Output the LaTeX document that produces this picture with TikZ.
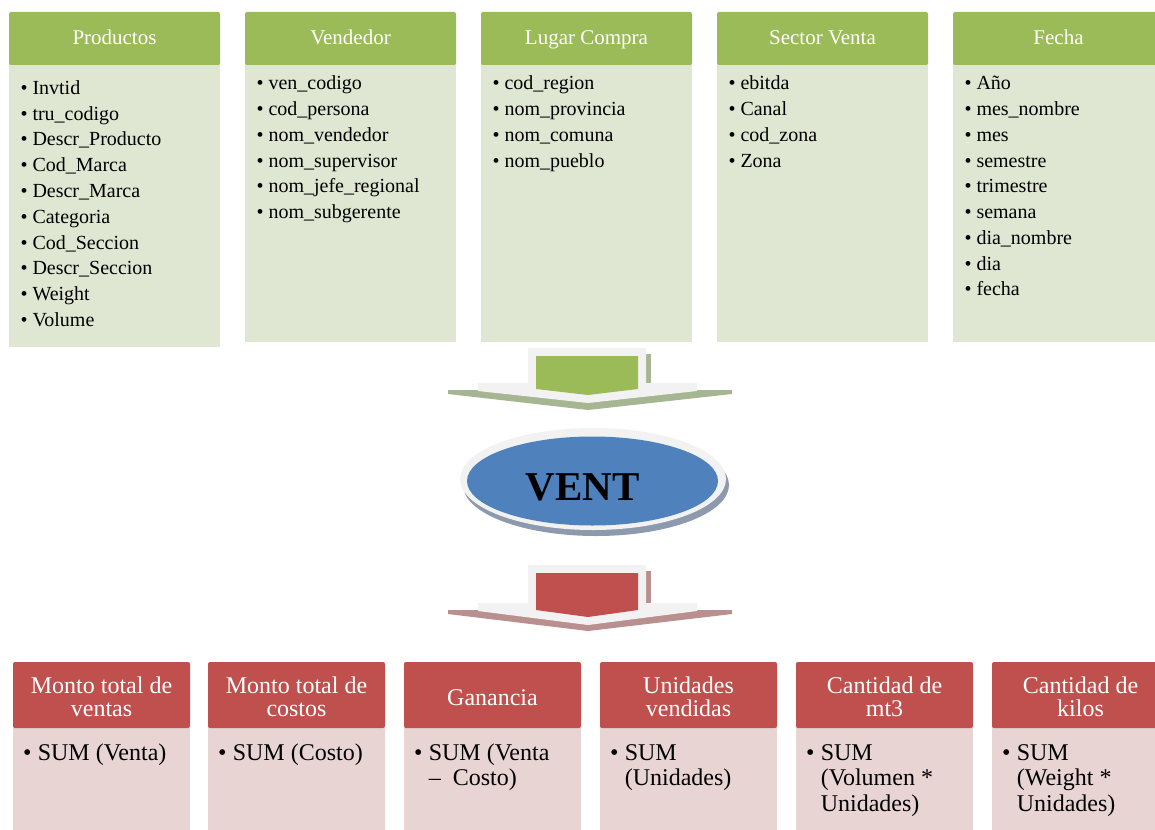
\documentclass[tikz,border=0pt]{standalone}
\usepackage{fontspec}
\setmainfont{Liberation Serif}

\definecolor{grnH}{HTML}{9BBB59}
\definecolor{grnB}{HTML}{DFE7D2}
\definecolor{redH}{HTML}{C0504D}
\definecolor{redB}{HTML}{E9D4D4}
\definecolor{pale}{HTML}{F2F2F2}
\definecolor{grnS}{HTML}{A6B592}
\definecolor{redS}{HTML}{B98F8F}
\definecolor{blueF}{HTML}{4F81BD}
\definecolor{blueS}{HTML}{8D9AAE}

\tikzset{
  hdr/.style={font=\fontsize{21}{24}\selectfont, text=white, inner sep=0pt, anchor=base},
  itm/.style={font=\fontsize{20}{24}\selectfont, text=black, inner sep=0pt, anchor=base west},
  fhdr/.style={font=\fontsize{24}{26}\selectfont, text=white, inner sep=0pt, anchor=base},
  fitm/.style={font=\fontsize{24}{26}\selectfont, text=black, inner sep=0pt, anchor=base west},
  fbul/.style={font=\fontsize{24}{26}\selectfont, text=black, inner sep=0pt, anchor=base},
}

% dimension box: name, left edge, title, body bottom, first baseline, items
\newcommand\dimbox[6]{%
  \fill[grnB] (#2,60) rectangle (#2+211,#4);
  \fill[grnH, rounded corners=2pt] (#2,12) rectangle (#2+211,65);
  \node[hdr] (#1) at (#2+105.5,44.5) {#3};
  \foreach \t [count=\k from 0] in {#6}
    \node[itm] (#1-\k) at (#2+11.3,#5+25.75*\k) {\textbullet\ \t};
}

% measure box frame: left edge
\newcommand\factframe[1]{%
  \fill[redB] (#1,724) rectangle (#1+177,840);
  \fill[redH, rounded corners=2pt] (#1,662) rectangle (#1+177,728);
}

\begin{document}
\begin{tikzpicture}[x=1pt,y=-1pt]
\useasboundingbox (0,0) rectangle (1155,829);
\clip (0,0) rectangle (1155,829);

% dimensions
\dimbox{prod}{9}{Productos}{347}{94.5}{Invtid,tru\_codigo,Descr\_Producto,Cod\_Marca,Descr\_Marca,Categoria,Cod\_Seccion,Descr\_Seccion,Weight,Volume}
\dimbox{vend}{245}{Vendedor}{342}{89.8}{ven\_codigo,cod\_persona,nom\_vendedor,nom\_supervisor,nom\_jefe\_regional,nom\_subgerente}
\dimbox{lugar}{481}{Lugar Compra}{342}{89.8}{cod\_region,nom\_provincia,nom\_comuna,nom\_pueblo}
\dimbox{sector}{717}{Sector Venta}{342}{89.8}{ebitda,Canal,cod\_zona,Zona}
\dimbox{fecha}{953}{Fecha}{342}{89.8}{Año,mes\_nombre,mes,semestre,trimestre,semana,dia\_nombre,dia,fecha}

% green block arrow into the fact
\fill[grnS] (448,390) -- (732,390) -- (732,394) -- (588,410) -- (448,394) -- cycle;
\fill[grnS] (646,354) rectangle (651,384);
\fill[pale] (528,348) -- (646,348) -- (646,383) -- (697,383) -- (697,391) -- (588,403)
  -- (478,391) -- (478,383) -- (528,383) -- cycle;
\fill[grnH] (536,356) -- (638,356) -- (638,389) -- (588,395) -- (536,389) -- cycle;

% fact ellipse
\fill[blueS] (596,485) ellipse [x radius=133, y radius=51];
\fill[pale] (593,479) ellipse [x radius=133, y radius=51];
\fill[blueF] (592.5,481) ellipse [x radius=125.5, y radius=44.5];
\node[font=\fontsize{41}{44}\selectfont\bfseries, inner sep=0pt, anchor=base] (vent) at (582.5,500) {VENT};

% red block arrow out of the fact
\fill[redS] (448,610) -- (732,610) -- (732,614) -- (588,631) -- (448,614) -- cycle;
\fill[redS] (646,571) rectangle (651,604);
\fill[pale] (528,565) -- (646,565) -- (646,603) -- (697,603) -- (697,611) -- (588,625)
  -- (478,611) -- (478,603) -- (528,603) -- cycle;
\fill[redH] (536,573) -- (638,573) -- (638,610) -- (588,617) -- (536,610) -- cycle;

% measures
\factframe{13}
\node[fhdr] (m1a) at (101.5,693.3) {Monto total de};
\node[fhdr] (m1b) at (101.5,716) {ventas};
\node[fbul] (m1s) at (27.4,760) {\textbullet};
\node[fitm] (m1t) at (37.6,760) {SUM (Venta)};

\factframe{208}
\node[fhdr] (m2a) at (296.5,693.3) {Monto total de};
\node[fhdr] (m2b) at (296.5,716) {costos};
\node[fbul] (m2s) at (222.4,760) {\textbullet};
\node[fitm] (m2t) at (232.6,760) {SUM (Costo)};

\factframe{404}
\node[fhdr] (m3a) at (492.5,705) {Ganancia};
\node[fbul] (m3s) at (418.4,760) {\textbullet};
\node[fitm] (m3t) at (428.6,760) {SUM (Venta};
\node[fitm] (m3u) at (428.6,785.5) {–\ \ Costo)};

\factframe{600}
\node[fhdr] (m4a) at (688.5,693.3) {Unidades};
\node[fhdr] (m4b) at (688.5,716) {vendidas};
\node[fbul] (m4s) at (614.4,760) {\textbullet};
\node[fitm] (m4t) at (624.6,760) {SUM};
\node[fitm] (m4u) at (624.6,785.5) {(Unidades)};

\factframe{796}
\node[fhdr] (m5a) at (884.5,693.3) {Cantidad de};
\node[fhdr] (m5b) at (884.5,716) {mt3};
\node[fbul] (m5s) at (810.4,760) {\textbullet};
\node[fitm] (m5t) at (820.6,760) {SUM};
\node[fitm] (m5u) at (820.6,785.5) {(Volumen *};
\node[fitm] (m5v) at (820.6,811) {Unidades)};

\factframe{992}
\node[fhdr] (m6a) at (1080.5,693.3) {Cantidad de};
\node[fhdr] (m6b) at (1080.5,716) {kilos};
\node[fbul] (m6s) at (1006.4,760) {\textbullet};
\node[fitm] (m6t) at (1016.6,760) {SUM};
\node[fitm] (m6u) at (1016.6,785.5) {(Weight *};
\node[fitm] (m6v) at (1016.6,811) {Unidades)};
\end{tikzpicture}
\end{document}
